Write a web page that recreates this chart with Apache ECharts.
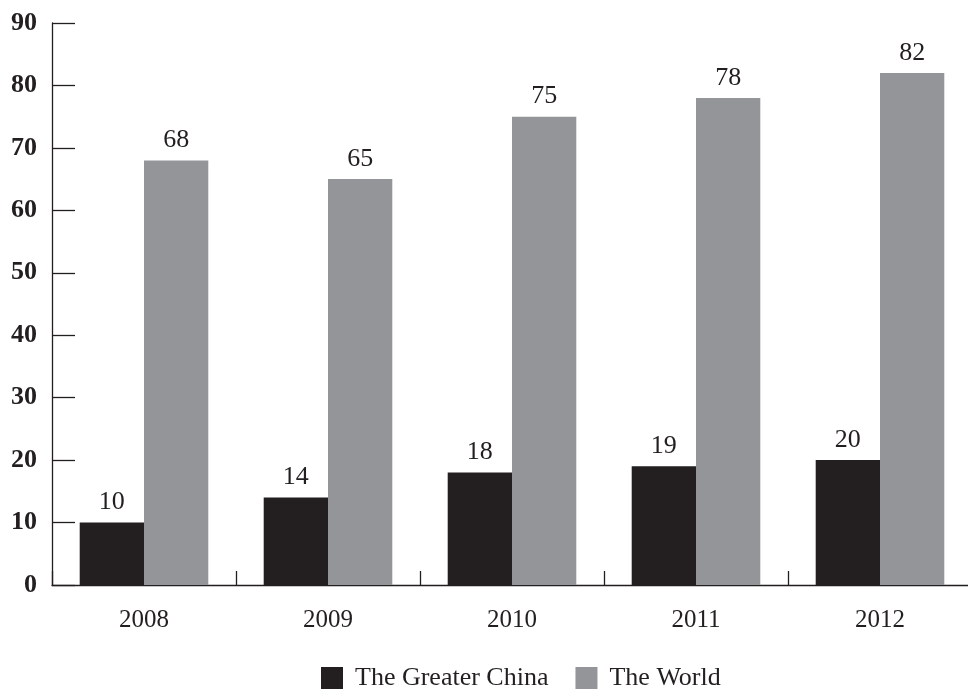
<!DOCTYPE html>
<html><head><meta charset="utf-8">
<script src="https://cdn.jsdelivr.net/npm/echarts@6/dist/echarts.min.js"></script>
<style>html,body{margin:0;padding:0;background:#fff}#c{width:968px;height:691px}</style>
</head><body><div id="c"></div>
<script>
const categories = ['2008','2009','2010','2011','2012'];
const greaterChina = [10,14,18,19,20];
const world = [68,65,75,78,82];
const yTicks = {min:0,max:90,interval:10};
const serif = '"Liberation Serif", "DejaVu Serif", serif';
const chart = echarts.init(document.getElementById('c'));
chart.setOption({
  animation:false,
  backgroundColor:'#fff',
  grid:{left:52,top:23,width:920,height:562,containLabel:false,outerBoundsMode:'none'},
  legend:{
    left:316, top:660, icon:'rect', itemWidth:22, itemHeight:22, itemGap:27,
    textStyle:{fontFamily:serif,fontSize:26,color:'#231f20',padding:[0,0,0,7]},
    data:['The Greater China','The World']
  },
  xAxis:{
    type:'category', data:categories,
    axisLine:{lineStyle:{color:'#231f20',width:1.3}},
    axisTick:{show:true,inside:true,length:14,lineStyle:{color:'#231f20',width:1.3}},
    axisLabel:{fontFamily:serif,fontSize:25,color:'#231f20',margin:23}
  },
  yAxis:{
    type:'value', min:yTicks.min, max:yTicks.max, interval:yTicks.interval,
    axisLine:{show:true,lineStyle:{color:'#231f20',width:1.3}},
    axisTick:{show:true,inside:true,length:23,lineStyle:{color:'#231f20',width:1.3}},
    splitLine:{show:false},
    axisLabel:{fontFamily:serif,fontSize:26,fontWeight:'bold',color:'#231f20',margin:15,padding:[0,0,8,0]}
  },
  series:[
    {name:'The Greater China',type:'bar',data:greaterChina,barWidth:64.3,barGap:'0%',
     itemStyle:{color:'#231f20'},
     label:{show:true,position:'top',distance:7,fontFamily:serif,fontSize:26,color:'#231f20'}},
    {name:'The World',type:'bar',data:world,barWidth:64.3,barGap:'0%',
     itemStyle:{color:'#939598'},
     label:{show:true,position:'top',distance:7,fontFamily:serif,fontSize:26,color:'#231f20'}}
  ]
});
</script></body></html>
